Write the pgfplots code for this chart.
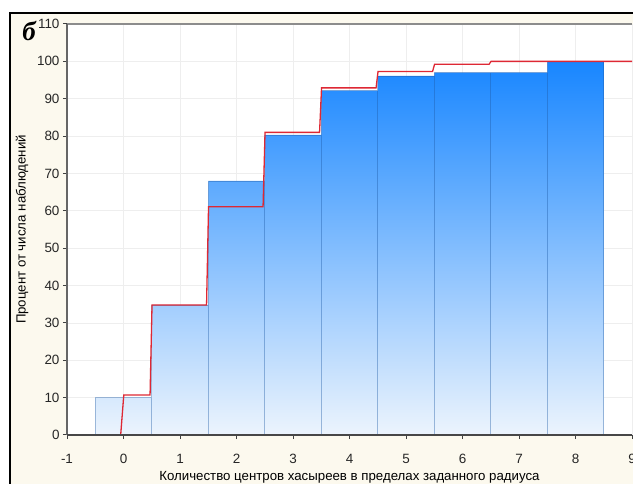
\documentclass[border=0pt]{standalone}
\usepackage{fontspec}
\setmainfont{Liberation Sans}
\newfontfamily\panelfont{Liberation Serif}
\usepackage{pgfplots}
\pgfplotsset{compat=1.18}

\definecolor{panelbg}{RGB}{252,249,238}
\definecolor{bartop}{RGB}{24,134,255}
\definecolor{barbot}{RGB}{236,244,253}
\definecolor{baredge}{RGB}{30,90,165}
\definecolor{cdfred}{RGB}{222,40,52}
\definecolor{gridc}{RGB}{238,238,238}

\begin{document}
\begin{tikzpicture}
\useasboundingbox (0,0) rectangle (633bp,484bp);
\clip (0,0) rectangle (633bp,484bp);
\fill[white] (0,0) rectangle (633bp,484bp);
\fill[panelbg] (10bp,0) rectangle (633bp,471bp);
\draw[black, line width=2bp] (10bp,-5bp) -- (10bp,471bp) -- (640bp,471bp);
\node at (29bp,453bp) {\panelfont\bfseries\itshape\fontsize{27}{27}\selectfont б};

\begin{axis}[
  at={(67bp,49bp)}, anchor=south west,
  scale only axis, width=565bp, height=411bp,
  xmin=-1, xmax=9, ymin=0, ymax=110,
  xtick={-1,0,...,9}, ytick={0,10,...,110},
  grid=major, major grid style={draw=gridc, line width=0.7bp},
  axis background/.style={fill=white},
  axis line style={draw=none},
  clip mode=individual,
  tick align=outside, xtick pos=bottom, ytick pos=left,
  major tick length=4bp,
  tick style={draw=black!75, line width=1bp},
  /pgf/number format/assume math mode=true,
  ticklabel style={font=\fontsize{13.5}{14}\selectfont, text=black!85},
  xticklabel style={anchor=base, yshift=-24bp},
  yticklabel style={anchor=east},
  xlabel={Количество центров хасыреев в пределах заданного радиуса},
  ylabel={Процент от числа наблюдений},
  label style={font=\fontsize{13.3}{14}\selectfont},
  xlabel style={at={([yshift=-45bp]axis description cs:0.5,0)}, anchor=base},
  ylabel style={at={([xshift=-45bp]axis description cs:0,0.5)}, anchor=center},
]
% cumulative-frequency bars, one gradient running from 0 to 100 %
\addplot[draw=none, top color=bartop, bottom color=barbot, const plot]
  coordinates {(-0.5,10) (0.5,34.8) (1.5,68) (2.5,80.3) (3.5,92.2)
               (4.5,96.1) (5.5,97) (6.5,97) (7.5,100) (8.5,100)} \closedcycle;
% bar outlines
\addplot[ybar interval, fill=none, draw=baredge, draw opacity=0.4, line width=0.8bp]
  coordinates {(-0.5,10) (0.5,34.8) (1.5,68) (2.5,80.3) (3.5,92.2)
               (4.5,96.1) (5.5,97) (6.5,97) (7.5,100) (8.5,100)};
% empirical cumulative distribution
\addplot[cdfred, line width=1.3bp, mark=none] coordinates {
  (-0.05,0) (0.005,10.7) (0.47,10.7) (0.505,34.8) (1.47,34.8) (1.505,61.1)
  (2.47,61.1) (2.505,81.0) (3.47,81.0) (3.505,92.9) (4.47,92.9) (4.505,97.3)
  (5.47,97.3) (5.505,99.2) (6.47,99.2) (6.505,100) (9,100)};
% frame lines
\draw[black!45, line width=2bp] (axis description cs:0,1) -- (axis description cs:1,1);
\draw[black!60, line width=1.8bp] (axis description cs:0,0) -- (axis description cs:0,1);
\draw[black!72, line width=1.5bp] (axis description cs:0,0) -- (axis description cs:1,0);
\end{axis}
\end{tikzpicture}
\end{document}
